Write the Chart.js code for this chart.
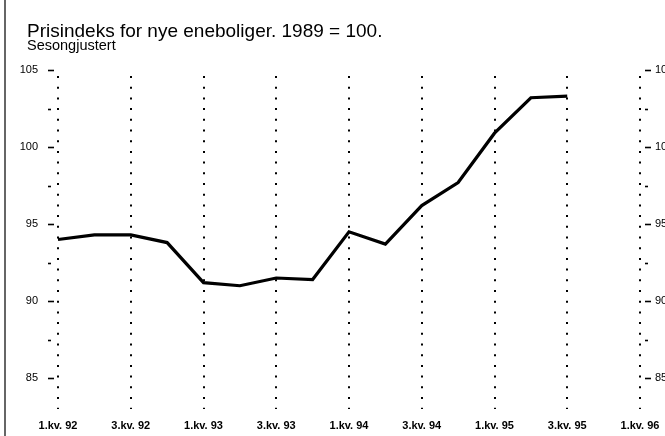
<!DOCTYPE html>
<html>
<head>
<meta charset="utf-8">
<script src="https://cdn.jsdelivr.net/npm/chart.js@4/dist/chart.umd.min.js"></script>
<style>
  html, body { margin: 0; padding: 0; background: #fff; overflow: hidden; }
  #wrap { position: relative; width: 665px; height: 436px; overflow: hidden; }
  #edge { position: absolute; left: 4px; top: 0; width: 2px; height: 436px; background: #666; }
  canvas { position: absolute; left: 0; top: 0; }
</style>
</head>
<body>
<div id="wrap">
  <canvas id="chart" width="680" height="436"></canvas>
  <div id="edge"></div>
</div>
<script>
// quarters 1.kv. 92 .. 1.kv. 96
const quarters = [
  '1.kv. 92', '2.kv. 92', '3.kv. 92', '4.kv. 92',
  '1.kv. 93', '2.kv. 93', '3.kv. 93', '4.kv. 93',
  '1.kv. 94', '2.kv. 94', '3.kv. 94', '4.kv. 94',
  '1.kv. 95', '2.kv. 95', '3.kv. 95', '4.kv. 95',
  '1.kv. 96'
];
// price index, seasonally adjusted
const prisindeks = [94.0, 94.3, 94.3, 93.8, 91.2, 91.0, 91.5, 91.4,
                    94.5, 93.7, 96.2, 97.7, 100.9, 103.2, 103.3];
const yTicks = [85, 87.5, 90, 92.5, 95, 97.5, 100, 102.5, 105];
const yMin = 83, yMax = 105;

const titleText = 'Prisindeks for nye eneboliger. 1989 = 100.';
const subtitleText = 'Sesongjustert';

const FONT = "'Liberation Sans', Arial, Helvetica, sans-serif";

// title block sits left of the plot area, so draw it by hand
const headings = {
  id: 'headings',
  afterDraw(chart) {
    const ctx = chart.ctx;
    ctx.save();
    ctx.fillStyle = '#000';
    ctx.textAlign = 'left';
    ctx.textBaseline = 'alphabetic';
    ctx.font = '19px ' + FONT;
    ctx.fillText(titleText, 27, 37);
    ctx.font = '14.5px ' + FONT;
    ctx.fillText(subtitleText, 27, 50);
    ctx.restore();
  }
};

// small tick marks beside the outer dotted lines, with a gap like the original
const tickMarks = {
  id: 'tickMarks',
  afterDraw(chart) {
    const ctx = chart.ctx;
    const area = chart.chartArea;
    ctx.save();
    ctx.strokeStyle = '#000';
    ctx.lineWidth = 1.6;
    ['y', 'y2'].forEach(id => {
      const s = chart.scales[id];
      s.ticks.forEach(t => {
        const py = Math.round(s.getPixelForValue(t.value)) + 0.5;
        const len = t.value % 5 === 0 ? 6 : 3;
        ctx.beginPath();
        if (id === 'y') {
          ctx.moveTo(area.left - 10, py);
          ctx.lineTo(area.left - 10 + len, py);
        } else {
          ctx.moveTo(area.right + 5, py);
          ctx.lineTo(area.right + 5 + len, py);
        }
        ctx.stroke();
      });
    });
    ctx.restore();
  }
};

function yAxis(position, width, padding) {
  return {
    position: position,
    min: yMin,
    max: yMax,
    afterBuildTicks: s => { s.ticks = yTicks.map(v => ({ value: v })); },
    afterFit: s => { s.width = width; },
    grid: { display: false, drawTicks: false },
    border: { display: false },
    ticks: {
      padding: padding,
      color: '#000',
      font: { family: FONT, size: 11 },
      callback: v => (v % 5 === 0 ? v : '')
    }
  };
}

new Chart(document.getElementById('chart'), {
  type: 'line',
  data: {
    labels: quarters,
    datasets: [{
      data: prisindeks,
      borderColor: '#000',
      borderWidth: 3.2,
      pointRadius: 0,
      tension: 0,
      fill: false,
      yAxisID: 'y'
    }]
  },
  plugins: [headings, tickMarks],
  options: {
    responsive: false,
    animation: false,
    layout: { padding: { left: 0, right: 0, top: 70, bottom: 0 } },
    plugins: {
      legend: { display: false },
      tooltip: { enabled: false }
    },
    scales: {
      x: {
        offset: false,
        afterBuildTicks: s => { s.ticks = s.ticks.filter(t => t.value % 2 === 0); },
        afterFit: s => { s.height = 27; },
        grid: {
          color: '#000',
          lineWidth: 2,
          drawTicks: false
        },
        border: { display: false, dash: [2, 8.7], dashOffset: 4.7 },
        ticks: {
          autoSkip: false,
          maxRotation: 0,
          padding: 10,
          color: '#000',
          font: { family: FONT, size: 11, weight: 'bold' }
        }
      },
      y: yAxis('left', 58, 20),
      y2: yAxis('right', 40, 15)
    }
  }
});
</script>
</body>
</html>
